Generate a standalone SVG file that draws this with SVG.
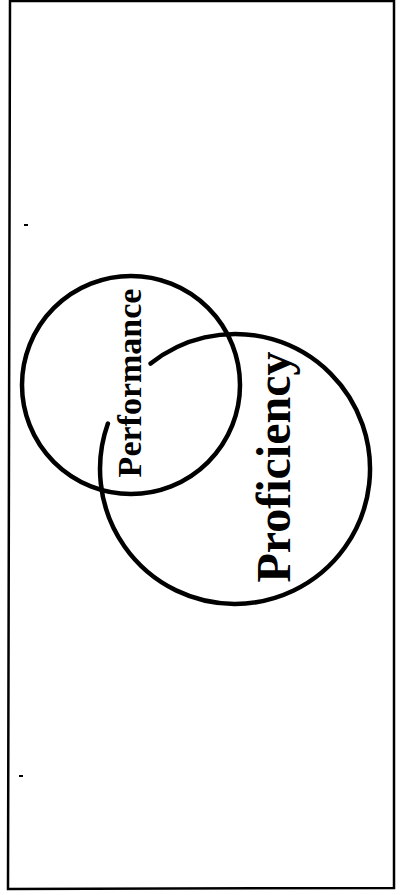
<svg xmlns="http://www.w3.org/2000/svg" width="405" height="895" viewBox="0 0 405 895">
<style>
.ring{fill:none;stroke:#000;stroke-width:4.5;stroke-linecap:round}
.lbl{font-family:"Liberation Serif","Times New Roman",serif;font-weight:bold;fill:#000;text-anchor:middle}
</style>
<rect width="405" height="895" fill="#fff"/>
<path d="M10 1 L394 1 L394 888 L8 889 Z" fill="none" stroke="#000" stroke-width="2.5"/>
<g id="performance">
<circle class="ring" cx="131" cy="385" r="109"/>
<text class="lbl" font-size="34" transform="translate(141,383) rotate(-90)">Performance</text>
</g>
<g id="proficiency">
<path class="ring" d="M150.6 363.6 A135 135 0 1 1 107.9 423.5"/>
<text class="lbl" font-size="48" transform="translate(290,467) rotate(-90)">Proficiency</text>
</g>
<g id="connectors"/>
<rect x="24" y="224" width="4" height="2" fill="#000"/>
<rect x="19" y="775" width="4" height="2" fill="#000"/>
</svg>
